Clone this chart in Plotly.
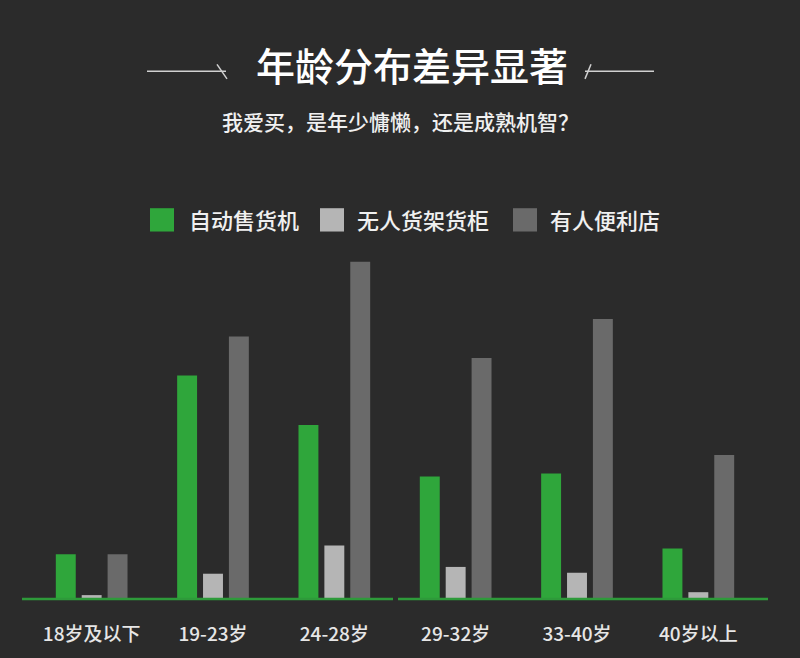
import plotly.graph_objects as go

# ---- data ----
categories = ["18岁及以下", "19-23岁", "24-28岁", "29-32岁", "33-40岁", "40岁以上"]
series_names = ["自动售货机", "无人货架货柜", "有人便利店"]
vending = [4.6, 23.0, 17.9, 12.6, 12.9, 5.2]
shelves = [0.4, 2.6, 5.5, 3.3, 2.7, 0.7]
stores = [4.6, 27.0, 34.7, 24.8, 28.8, 14.8]
colors = ["#2fa63b", "#b5b5b5", "#6a6a6a"]

title_text = "年龄分布差异显著"
subtitle_text = "我爱买，是年少慵懒，还是成熟机智？"

# ---- layout geometry (pixels) ----
W, H = 800, 658
L, R, T, B = 31, 41, 250, 49
PW, PH = W - L - R, H - T - B
BG = "#2b2b2b"
FONT = "Noto Sans CJK SC"


def px(x):
    return (x - L) / PW


def py(y):
    return (H - B - y) / PH


fig = go.Figure()
for name, vals, col in zip(series_names, [vending, shelves, stores], colors):
    fig.add_trace(go.Bar(x=categories, y=vals, name=name, marker_color=col,
                         marker_line_width=0, showlegend=False, hoverinfo="skip"))

shapes = []
# baselines (two segments)
for x0, x1 in [(22, 393), (398, 768)]:
    shapes.append(dict(type="line", xref="paper", yref="paper",
                       x0=px(x0), x1=px(x1), y0=0, y1=0,
                       line=dict(color="#2e9a3a", width=2.5)))
# decorative title lines
deco = "#d0d0d0"
for (x0, y0, x1, y1) in [(147, 66, 226, 66), (217, 59, 227, 74),
                         (585, 66, 654, 66), (591, 59, 585, 74)]:
    shapes.append(dict(type="line", xref="paper", yref="paper",
                       x0=px(x0), x1=px(x1), y0=py(y0), y1=py(y1),
                       line=dict(color=deco, width=1.5)))

annotations = [
    dict(text=title_text, xref="paper", yref="paper", x=px(412), y=py(59),
         showarrow=False, xanchor="center", yanchor="middle",
         font=dict(family=FONT, size=39, color="#ffffff", weight=500)),
    dict(text=subtitle_text, xref="paper", yref="paper", x=px(400), y=py(117),
         showarrow=False, xanchor="center", yanchor="middle",
         font=dict(family=FONT, size=21, color="#f0f0f0", weight=500)),
]

# legend (squares + labels)
legend_items = [(150, 187), (320, 355), (513, 548)]
for (sx, tx), name, col in zip(legend_items, series_names, colors):
    shapes.append(dict(type="rect", xref="paper", yref="paper",
                       x0=px(sx), x1=px(sx + 24), y0=py(207), y1=py(231),
                       fillcolor=col, line=dict(width=0)))
    annotations.append(dict(text=name, xref="paper", yref="paper",
                            x=px(tx), y=py(218), showarrow=False,
                            xanchor="left", yanchor="middle",
                            font=dict(family=FONT, size=22, color="#f0f0f0", weight=500)))

fig.update_layout(
    width=W, height=H,
    margin=dict(l=L, r=R, t=T, b=B),
    paper_bgcolor=BG, plot_bgcolor=BG,
    barmode="group", bargap=0.36, bargroupgap=0.23,
    shapes=shapes, annotations=annotations,
    font=dict(family=FONT, color="#e6e6e6"),
    xaxis=dict(showgrid=False, zeroline=False, showline=False, ticks="",
               range=[-0.5, 5.5],
               tickfont=dict(family=FONT, size=19, color="#e6e6e6", weight=500),
               ticklabelstandoff=22, fixedrange=True),
    yaxis=dict(visible=False, range=[0, PH / 10.0], showgrid=False, zeroline=False,
               fixedrange=True),
    showlegend=False,
    hovermode=False,
)

post = (
    "var s=document.documentElement.style;s.margin='0';s.padding='0';"
    "s.overflow='hidden';s.height='%dpx';s.background='%s';"
    "var b=document.body.style;b.margin='0';b.padding='0';b.overflow='hidden';"
    "b.height='%dpx';b.background='%s';"
) % (H, BG, H, BG)

fig.write_html("out.html",
               config={"displayModeBar": False, "staticPlot": True},
               post_script=post)
